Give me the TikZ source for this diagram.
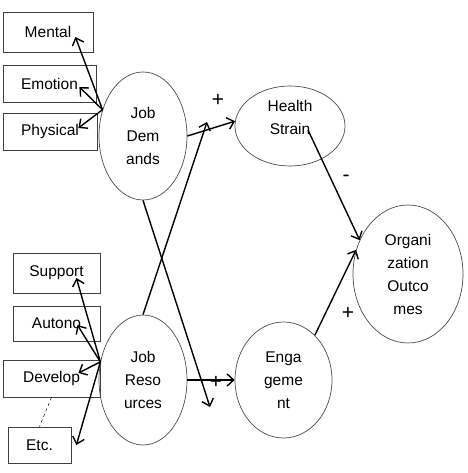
\documentclass[tikz,border=0pt]{standalone}
\usepackage{fontspec}
\setmainfont{Liberation Sans}
\usetikzlibrary{calc,positioning,shapes.geometric,arrows.meta}

\begin{document}
\begin{tikzpicture}[x=1pt,y=1pt,
  font=\fontsize{15.5}{23}\selectfont,
  factor/.style={draw=black!75,line width=0.8pt,inner sep=0pt},
  construct/.style={draw=black!70,ellipse,line width=0.7pt,align=center,inner sep=0pt},
  link/.style={line width=1.4pt,-{Straight Barb[length=6.5pt,width=12pt]}},
  sign/.style={inner sep=0pt,font=\fontsize{21}{21}\selectfont}]
  \useasboundingbox (0,0) rectangle (467,473);

  % demands
  \node[factor,minimum width=90pt,minimum height=40pt](mental) at (48,441){Mental};
  \node[factor,minimum width=93pt,minimum height=37pt](emotion) at (49.5,389.5){Emotion};
  \node[factor,minimum width=94pt,minimum height=37pt](physical) at (50,341.5){Physical};
  \node[construct,minimum width=88pt,minimum height=128pt](jd) at (143,337){Job\\Dem\\ands};
  \path[link]
  (jd.147) edge ([shift={(-18,-5)}]mental.east)
  (jd.147) edge ([shift={(-17,-3.5)}]emotion.east)
  (jd.147) edge ([shift={(-19,3.5)}]physical.east);

  % resources
  \node[factor,minimum width=87pt,minimum height=40pt](support) at (56.5,200){Support};
  \node[factor,minimum width=87pt,minimum height=35pt](autono) at (56.5,149.5){Autono};
  \node[factor,minimum width=97pt,minimum height=37pt](develop) at (51.5,94.5){Develop};
  \node[factor,minimum width=63pt,minimum height=36pt](etc) at (39.5,28){Etc.};
  \node[construct,minimum width=88pt,minimum height=130pt](jr) at (143,93){Job\\Reso\\urces};
  \draw[dashed,line width=0.5pt] (develop.south) -- (etc.north);
  \path[link]
  (jr.157) edge ([shift={(-24,-5)}]support.east)
  (jr.157) edge ([shift={(-23,-1.5)}]autono.east)
  (jr.157) edge ([shift={(-22,5.5)}]develop.east)
  (jr.157) edge ([shift={(5,0)}]etc.east);

  % outcomes
  \node[construct,minimum width=110pt,minimum height=80pt,text depth=18pt](hs) at (290,347){Health\\Strain};
  \node[construct,minimum width=97pt,minimum height=116pt](eng) at (283.5,93){Enga\\geme\\nt};
  \node[construct,minimum width=110pt,minimum height=138pt](oo) at (408,199){Organi\\zation\\Outco\\mes};
  \coordinate(hsin) at (207,351);
  \coordinate(engin) at (210,66);
  \node[sign](p1) at (218,373){+};
  \node[sign](p2) at (216,91){+};
  \node[sign](m1) at (346,295){-};
  \node[sign](p3) at (348,160){+};
  \path[link]
  (jd.east) edge (hs.175)
  (jr.north) edge (hsin)
  (jd.south) edge (engin)
  (jr.east) edge (eng.west)
  ([shift={(18,-4)}]hs.center) edge (oo.145)
  (eng.55) edge (oo.155);
\end{tikzpicture}
\end{document}
